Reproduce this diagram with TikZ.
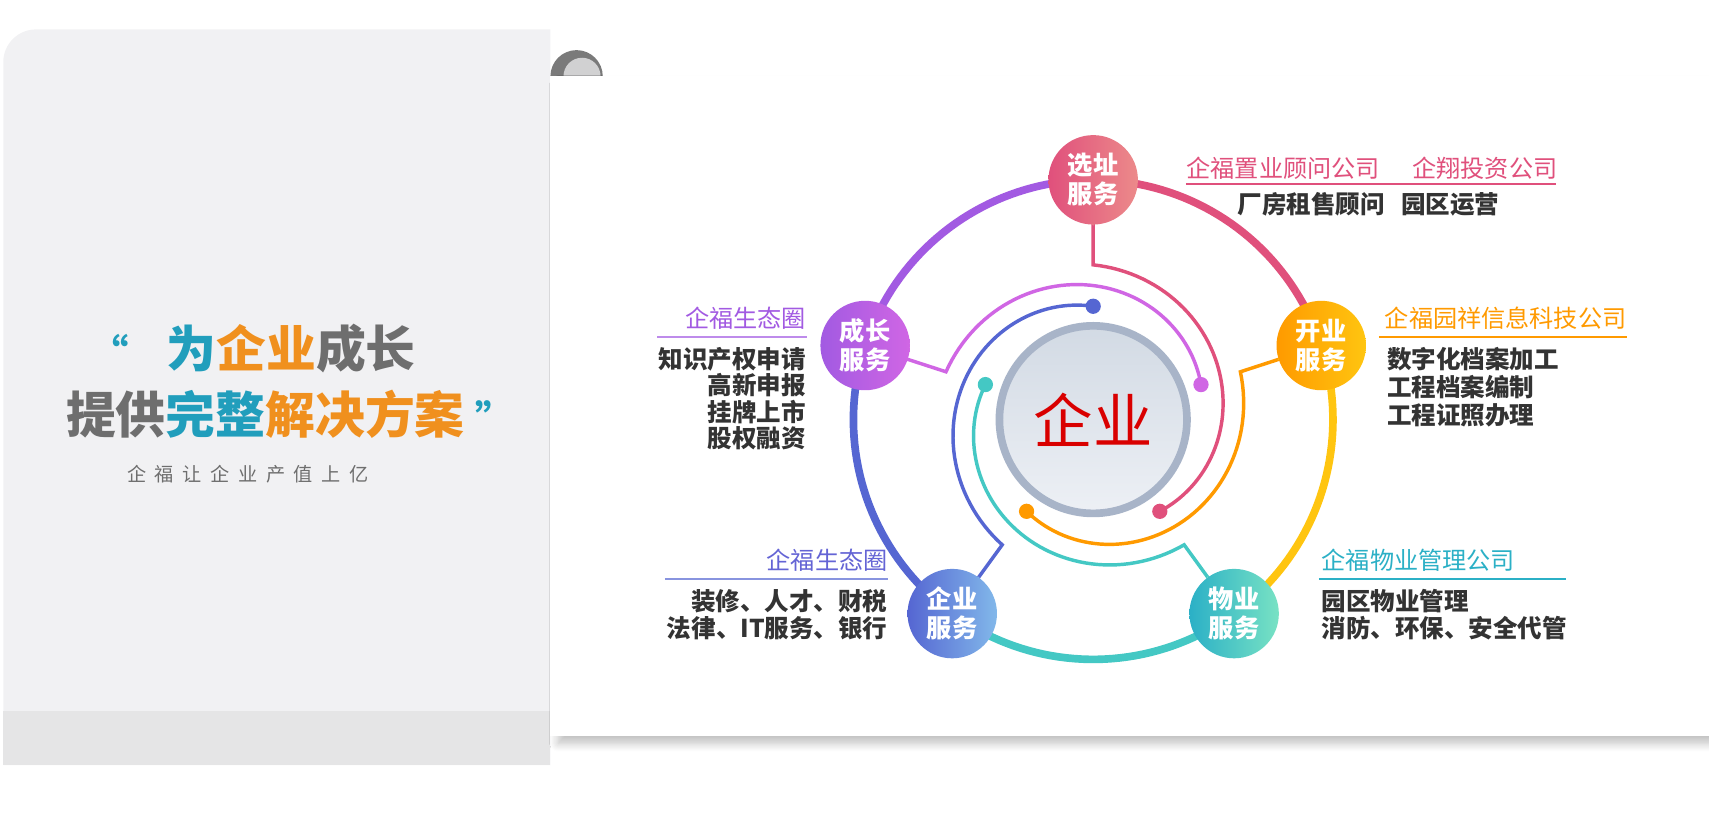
\documentclass[tikz,border=0pt]{standalone}
\usepackage{fontspec}
\setmainfont{Noto Sans CJK SC}
\usetikzlibrary{shadows.blur}
\definecolor{panelgray}{HTML}{F1F1F3}
\definecolor{stripgray}{HTML}{E5E5E6}
\definecolor{curlgray}{HTML}{7A7A7A}
\definecolor{txtdark}{HTML}{333333}
\definecolor{cpink}{HTML}{E0507C}
\definecolor{cpinkl}{HTML}{EC8A8A}
\definecolor{cyellow}{HTML}{FFC510}
\definecolor{corange}{HTML}{FF9A00}
\definecolor{cteal}{HTML}{2BB0C6}
\definecolor{ctealm}{HTML}{44C8C4}
\definecolor{ctealL}{HTML}{78E2C4}
\definecolor{cblue}{HTML}{5566D2}
\definecolor{cbluel}{HTML}{82B8EA}
\definecolor{cpurple}{HTML}{A25AE2}
\definecolor{cpurplel}{HTML}{D066E4}
\definecolor{titleblue}{HTML}{219EBC}
\definecolor{titleorange}{HTML}{F0901E}
\definecolor{titlegray}{HTML}{6E6E6E}
\definecolor{corering}{HTML}{A8B4C8}
\definecolor{coretop}{HTML}{D2DAE4}
\definecolor{corebot}{HTML}{EDF0F5}
\newcommand{\wx}{1003}
\newcommand{\wy}{385}

\begin{document}
\begin{tikzpicture}[x=0.01cm,y=-0.01cm,
	servnode/.style={circle,minimum size=0.82cm,inner sep=0pt,text=white,
		font=\bfseries\fontsize{6.6}{7.6}\selectfont,align=center},
	ring/.style={line width=2pt},
	spiral/.style={line width=0.9pt},
	head/.style={font=\fontsize{6.3}{7.5}\selectfont,inner sep=0pt},
	body/.style={font=\bfseries\fontsize{6.4}{7.1}\selectfont,text=txtdark,inner sep=0pt}]
	\useasboundingbox (0,0) rectangle (1568,761);

	% left panel
	\fill[panelgray] (3,57) arc[start angle=180,end angle=90,radius=0.3cm] -- (505,27) -- (505,702) -- (3,702) -- cycle;
	\fill[stripgray] (3,652) rectangle (505,702);
	% curl
	\fill[curlgray] (505,70) arc[start angle=180,end angle=0,radius=0.24cm] -- cycle;
	\fill[stripgray!80!gray] (517,70) arc[start angle=180,end angle=0,radius=0.17cm] -- cycle;
	% white card
	\fill[white,blur shadow={shadow blur steps=8,shadow xshift=2pt,shadow yshift=-2pt,shadow opacity=25}] (505,70) rectangle (1568,675);

	% title
	\node[font=\bfseries\fontsize{13}{14}\selectfont,anchor=west,inner sep=0pt] (title1) at (82,320)
		{\textcolor{titleblue}{\fontsize{10}{10}\selectfont“}\hspace{0.35cm}\textcolor{titleblue}{为}\textcolor{titleorange}{企业}\textcolor{titlegray}{成长}};
	\node[font=\bfseries\fontsize{13}{14}\selectfont,anchor=west,inner sep=0pt] (title2) at (60,380)
		{\textcolor{titlegray}{提供}\textcolor{titleblue}{完整}\textcolor{titleorange}{解决方案}\hspace{0.1cm}\textcolor{titleblue}{\fontsize{10}{10}\selectfont”}};
	\node[font=\addfontfeature{LetterSpace=45}\fontsize{5}{6}\selectfont,text=titlegray,anchor=west,inner sep=0pt] (subtitle) at (116,435) {企福让企业产值上亿};

	% outer ring
	\draw[ring,cpink] plot[domain=90:18,samples=40] ({\wx+220*cos(\x)},{\wy-220*sin(\x)});
	\draw[ring,cyellow] plot[domain=18:-54,samples=40] ({\wx+220*cos(\x)},{\wy-220*sin(\x)});
	\draw[ring,ctealm] plot[domain=-54:-126,samples=40] ({\wx+220*cos(\x)},{\wy-220*sin(\x)});
	\draw[ring,cblue] plot[domain=-126:-198,samples=40] ({\wx+220*cos(\x)},{\wy-220*sin(\x)});
	\draw[ring,cpurple] plot[domain=162:90,samples=40] ({\wx+220*cos(\x)},{\wy-220*sin(\x)});

	% inner spirals
	\foreach \a/\c in {90/cpink,18/corange,-54/ctealm,-126/cblue,162/cpurplel}{
		\draw[spiral,\c] ({\wx+185*cos(\a)},{\wy-185*sin(\a)}) -- ({\wx+142*cos(\a)},{\wy-142*sin(\a)})
			-- plot[domain=0:144,samples=60] ({\wx+(142-38*\x/144)*cos(\a-\x)},{\wy-(142-38*\x/144)*sin(\a-\x)});
		\fill[\c] ({\wx+104*cos(\a-144)},{\wy-104*sin(\a-144)}) circle (0.07cm);
	}

	% centre
	\node[circle,minimum size=1.72cm,inner sep=0pt,draw=corering,line width=2pt,
		top color=coretop,bottom color=corebot,text=red!85!black,
		font=\fontsize{15.5}{16}\selectfont] (qiye) at (\wx,\wy) {企业};

	% service nodes
	\foreach \n/\a/\ca/\cb/\t in {xuanzhi/90/cpink/cpinkl/选址\\服务,kaiye/18/corange/cyellow/开业\\服务,
		wuye/-54/cteal/ctealL/物业\\服务,qyfw/-126/cblue/cbluel/企业\\服务,chengzhang/162/cpurple/cpurplel/成长\\服务}{
		\fill[\cb] ({\wx+220*cos(\a)+30*cos(\a+110)},{\wy-220*sin(\a)-30*sin(\a+110)})
			-- ({\wx+178*cos(\a)},{\wy-178*sin(\a)})
			-- ({\wx+220*cos(\a)+30*cos(\a-110)},{\wy-220*sin(\a)-30*sin(\a-110)}) -- cycle;
		\node[servnode,left color=\ca,right color=\cb] (\n) at ({\wx+220*cos(\a)},{\wy-220*sin(\a)}) {\t};
	}

	% texts: xuanzhi
	\node[head,text=cpink,anchor=south west] (h1) at (1088,165) {企福置业顾问公司\hspace{0.3cm}企翔投资公司};
	\draw[cpink,line width=0.5pt] (1088,169) -- (1428,169);
	\node[body,anchor=north west] (b1) at (1135,176) {厂房租售顾问\hspace{0.15cm}园区运营};
	% kaiye
	\node[head,text=corange,anchor=south west] (h2) at (1270,303) {企福园祥信息科技公司};
	\draw[corange,line width=0.5pt] (1265,309) -- (1493,309);
	\node[body,anchor=north west,align=left,font=\bfseries\fontsize{6.4}{7.3}\selectfont] (b2) at (1272,318) {数字化档案加工\\工程档案编制\\工程证照办理};
	% chengzhang
	\node[head,text=cpurple,anchor=south east] (h3) at (740,303) {企福生态圈};
	\draw[cpurple!70,line width=0.5pt] (603,309) -- (740,309);
	\node[body,anchor=north east,align=right,font=\bfseries\fontsize{6.4}{6.9}\selectfont] (b3) at (740,318) {知识产权申请\\高新申报\\挂牌上市\\股权融资};
	% qyfw
	\node[head,text=cblue!80!cpurple,anchor=south east] (h4) at (815,525) {企福生态圈};
	\draw[cblue!70,line width=0.5pt] (610,531) -- (815,531);
	\node[body,anchor=north east,align=right,font=\bfseries\fontsize{6.4}{7}\selectfont] (b4) at (815,540) {装修、人才、财税\\法律、IT服务、银行};
	% wuye
	\node[head,text=cteal,anchor=south west] (h5) at (1212,525) {企福物业管理公司};
	\draw[cteal,line width=0.5pt] (1210,531) -- (1437,531);
	\node[body,anchor=north west,align=left,font=\bfseries\fontsize{6.4}{7}\selectfont] (b5) at (1212,540) {园区物业管理\\消防、环保、安全代管};
\end{tikzpicture}
\end{document}
